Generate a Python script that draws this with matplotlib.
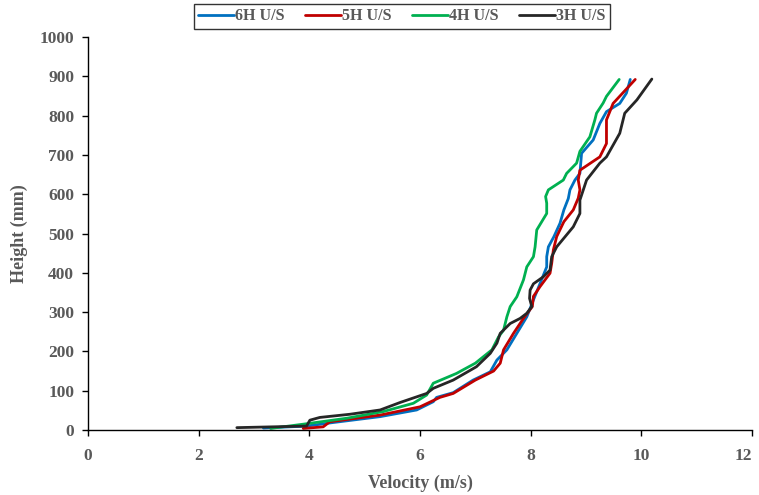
import matplotlib
matplotlib.use("Agg")
import matplotlib.pyplot as plt

# Velocity (m/s) vs height (mm) profiles
h_6h = [5, 10, 19, 34, 51, 72, 83, 95, 127, 148, 178, 204, 246, 288, 331, 373,
        415, 441, 466, 492, 526, 560, 589, 611, 636, 653, 704, 738, 780, 810,
        831, 857, 892]
v_6h = [3.17, 3.95, 4.43, 5.28, 5.94, 6.24, 6.30, 6.60, 6.96, 7.27, 7.39, 7.57,
        7.75, 7.93, 8.05, 8.17, 8.29, 8.29, 8.32, 8.42, 8.53, 8.60, 8.68, 8.71,
        8.80, 8.89, 8.92, 9.13, 9.25, 9.37, 9.61, 9.73, 9.80]

h_5h = [4, 8, 21, 38, 59, 83, 93, 127, 150, 170, 204, 246, 284, 314, 340, 365,
        399, 424, 458, 492, 530, 560, 590, 611, 636, 661, 695, 729, 789, 831, 892]
v_5h = [3.89, 4.25, 4.37, 5.28, 6.00, 6.36, 6.60, 7.00, 7.33, 7.45, 7.51, 7.69,
        7.87, 8.03, 8.05, 8.17, 8.35, 8.38, 8.41, 8.47, 8.60, 8.77, 8.86, 8.89,
        8.86, 8.89, 9.25, 9.37, 9.37, 9.49, 9.89]

h_4h = [4, 17, 30, 47, 68, 89, 119, 144, 170, 204, 237, 254, 271, 288, 314, 339,
        382, 415, 441, 466, 509, 551, 577, 594, 611, 636, 653, 679, 709, 746,
        789, 806, 832, 849, 892]
v_4h = [3.30, 4.01, 4.68, 5.34, 5.88, 6.12, 6.24, 6.66, 7.00, 7.30, 7.42, 7.51,
        7.54, 7.57, 7.63, 7.75, 7.87, 7.93, 8.05, 8.08, 8.11, 8.29, 8.29, 8.27,
        8.32, 8.59, 8.65, 8.83, 8.89, 9.07, 9.16, 9.19, 9.31, 9.37, 9.60]

h_3h = [6, 10, 25, 32, 40, 51, 70, 93, 106, 127, 161, 195, 221, 246, 271, 284,
        297, 314, 335, 356, 372, 390, 407, 441, 466, 517, 551, 585, 636, 679,
        695, 755, 806, 840, 893]
v_3h = [2.69, 3.95, 4.01, 4.19, 4.73, 5.28, 5.64, 6.12, 6.24, 6.60, 7.02, 7.27,
        7.39, 7.45, 7.63, 7.81, 7.93, 8.02, 7.98, 7.99, 8.05, 8.23, 8.35, 8.38,
        8.47, 8.77, 8.89, 8.89, 9.01, 9.25, 9.37, 9.61, 9.70, 9.92, 10.19]

series = [("6H U/S", v_6h, h_6h, "#0070C0"),
          ("5H U/S", v_5h, h_5h, "#C00000"),
          ("4H U/S", v_4h, h_4h, "#00B050"),
          ("3H U/S", v_3h, h_3h, "#262626")]

x_ticks = [0, 2, 4, 6, 8, 10, 12]
y_ticks = list(range(0, 1001, 100))

GREY = "#595959"
plt.rcParams["font.family"] = ["Liberation Serif", "DejaVu Serif"]
plt.rcParams["font.weight"] = "bold"

fig = plt.figure(figsize=(7.59, 4.95), dpi=100)
ax = fig.add_axes([88 / 759, 65 / 495, 664 / 759, 393 / 495])

for name, v, h, c in series:
    ax.plot(v, h, color=c, lw=2.0, label=name, solid_joinstyle="round",
            solid_capstyle="round")

ax.set_xlim(0, 12)
ax.set_ylim(0, 1000)
ax.set_xticks(x_ticks)
ax.set_yticks(y_ticks)
ax.tick_params(axis="both", labelsize=12.5, labelcolor=GREY, length=4,
               width=1, color="black", direction="out")
ax.tick_params(axis="x", pad=9)
ax.tick_params(axis="y", pad=6)
for lab in ax.get_xticklabels() + ax.get_yticklabels():
    lab.set_fontweight("bold")
# last x label is pulled inside the figure edge, as in the reference
ax.get_xticklabels()[-1].set_horizontalalignment("right")
ax.spines["top"].set_visible(False)
ax.spines["right"].set_visible(False)
ax.spines["left"].set_linewidth(1)
ax.spines["bottom"].set_linewidth(1)

ax.set_xlabel("Velocity (m/s)", fontsize=13, fontweight="bold", color=GREY,
              labelpad=8)
ax.set_ylabel("Height (mm)", fontsize=13, fontweight="bold", color=GREY,
              labelpad=8)

leg = fig.legend(loc="center", bbox_to_anchor=(402 / 759, 1 - 16.5 / 495),
                 ncol=4, fontsize=11.5, frameon=True, fancybox=False,
                 handlelength=2.2, handletextpad=0.1, columnspacing=1.3,
                 borderpad=0.3)
leg.get_frame().set_edgecolor("black")
leg.get_frame().set_linewidth(1)
for t in leg.get_texts():
    t.set_color(GREY)
    t.set_fontweight("bold")

fig.savefig("out.png", dpi=100, facecolor="white")
